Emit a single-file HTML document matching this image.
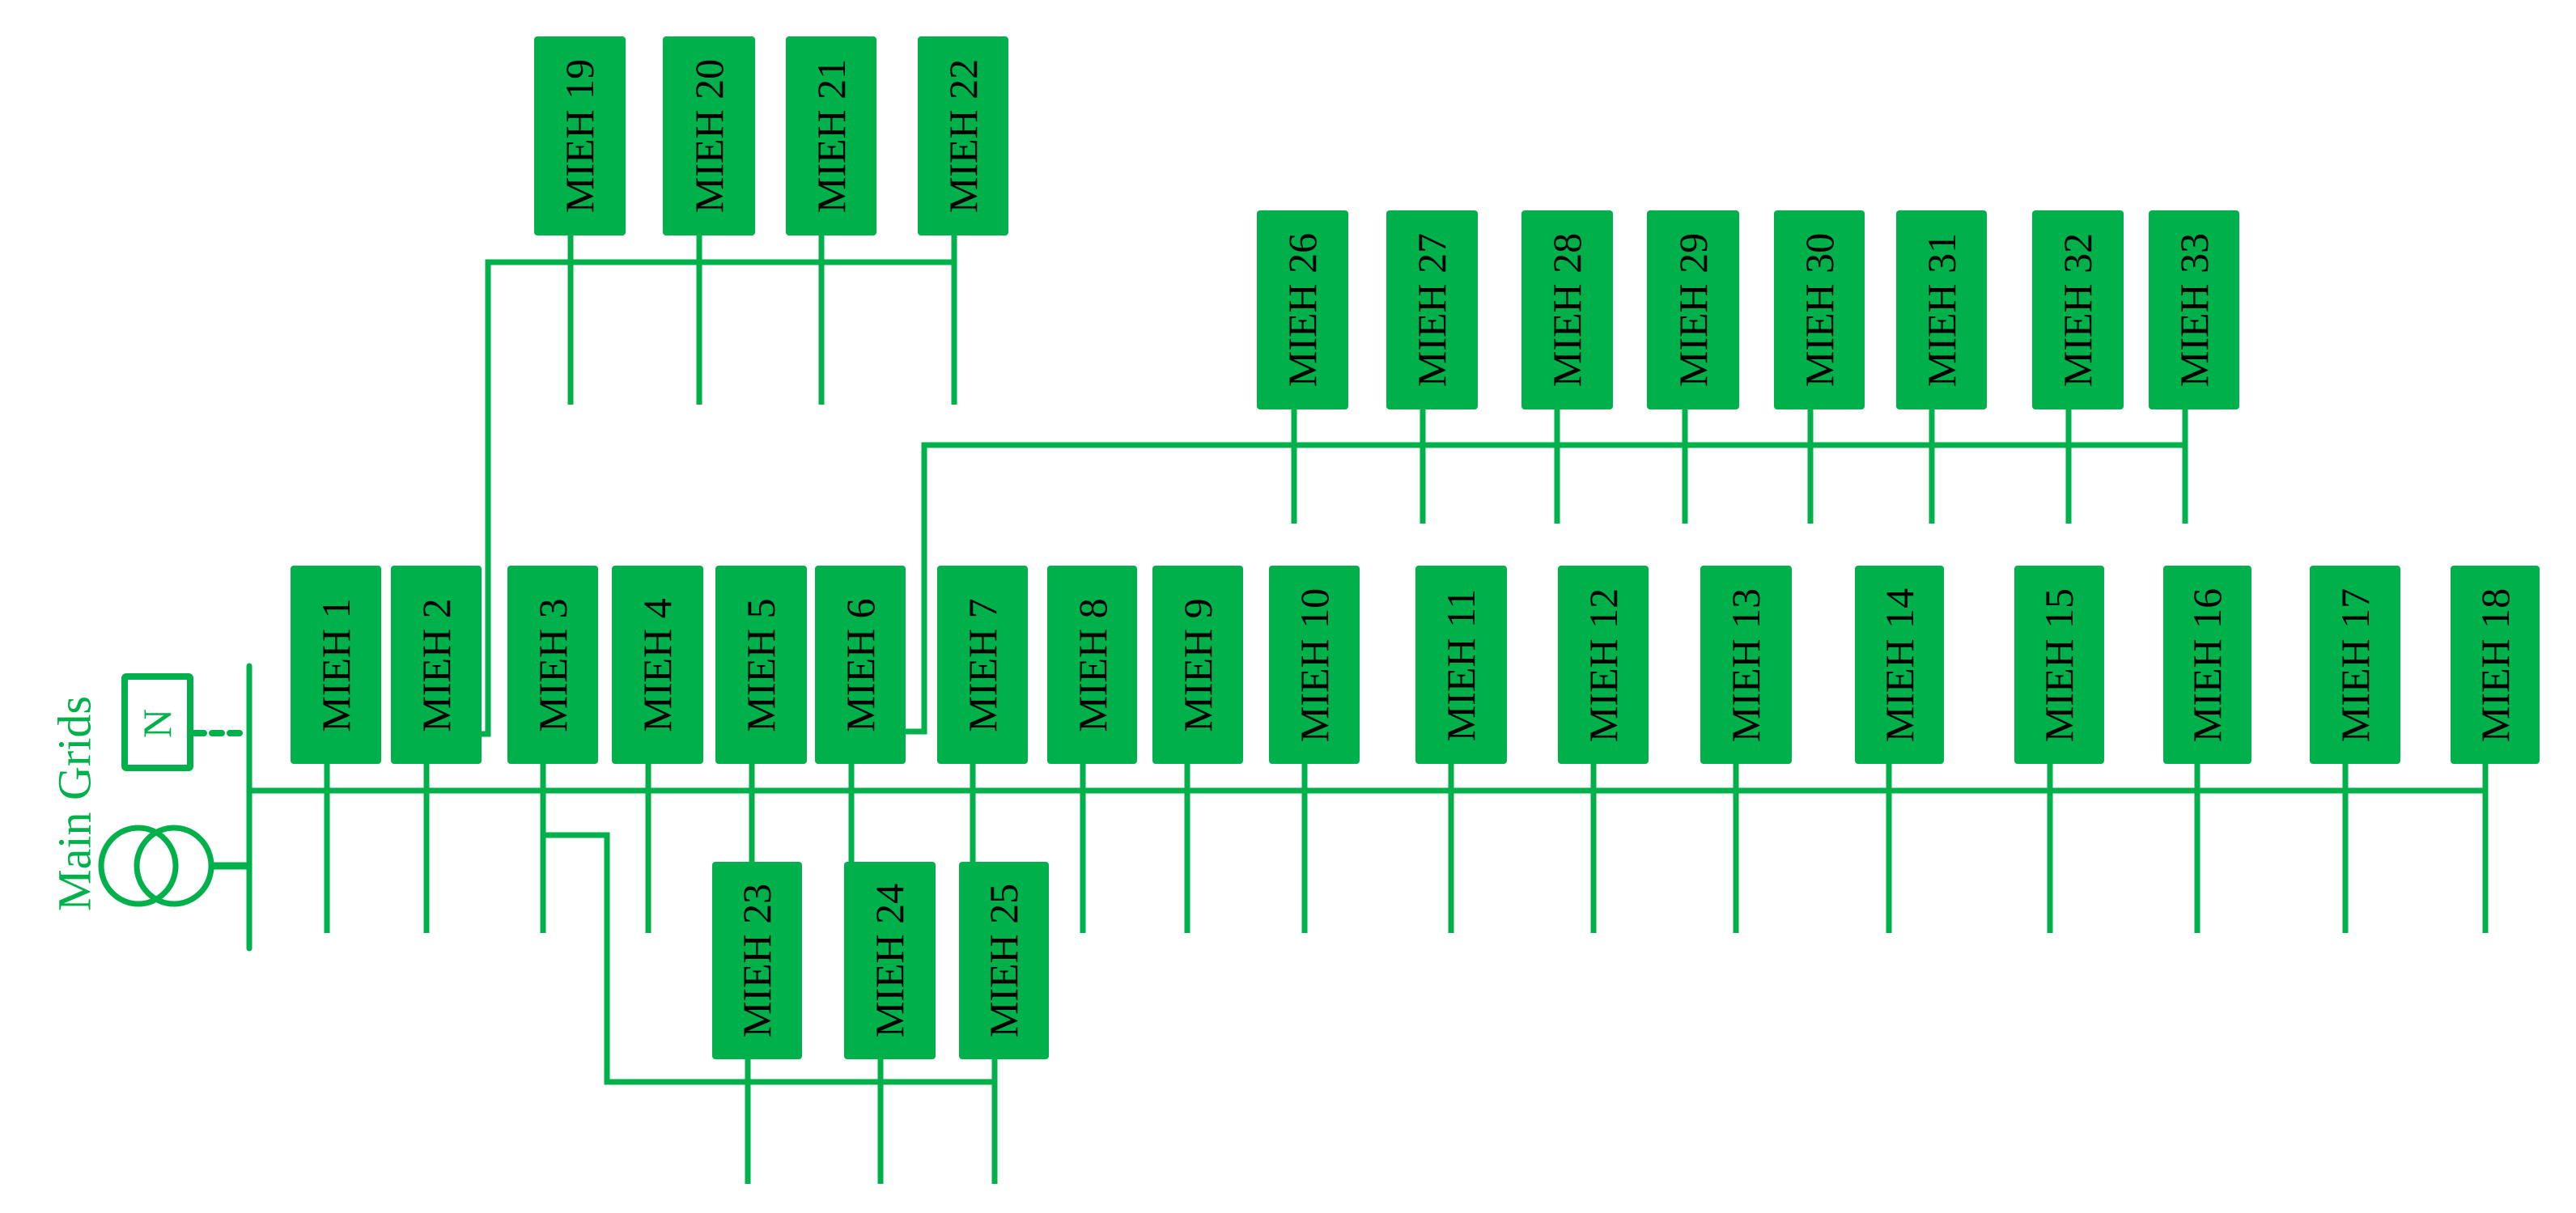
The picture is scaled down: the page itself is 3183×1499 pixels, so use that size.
<!DOCTYPE html>
<html><head><meta charset="utf-8"><style>
html,body{margin:0;padding:0;background:#fff;}
svg{display:block;}
text{font-family:"Liberation Serif",serif;}
</style></head><body>
<svg width="3183" height="1499" viewBox="0 0 3183 1499" xmlns="http://www.w3.org/2000/svg">
<g stroke="#00b04a" stroke-width="7" fill="none" stroke-linecap="butt">
<!-- main vertical bus -->
<line x1="308" y1="823" x2="308" y2="1172" stroke-linecap="round"/>
<!-- main horizontal bus -->
<line x1="308" y1="977" x2="3071" y2="977"/>
<!-- transformer link -->
<line x1="263" y1="1070" x2="308" y2="1070" stroke-width="9"/>
<ellipse cx="171" cy="1070" rx="46" ry="47" stroke-width="7"/>
<ellipse cx="215" cy="1070" rx="46" ry="47" stroke-width="7"/>
<!-- N box -->
<rect x="154" y="836" width="81" height="113" stroke-width="8" rx="2"/>
<line x1="240" y1="906" x2="305" y2="906" stroke-width="8" stroke-dasharray="12 10" stroke-linecap="round"/>
<!-- main row drops -->
<line x1="404" y1="944" x2="404" y2="1153"/>
<line x1="527" y1="944" x2="527" y2="1153"/>
<line x1="671" y1="944" x2="671" y2="1153"/>
<line x1="801" y1="944" x2="801" y2="1153"/>
<line x1="929" y1="944" x2="929" y2="1065"/>
<line x1="1052" y1="944" x2="1052" y2="1065"/>
<line x1="1202" y1="944" x2="1202" y2="1065"/>
<line x1="1338" y1="944" x2="1338" y2="1153"/>
<line x1="1467" y1="944" x2="1467" y2="1153"/>
<line x1="1612" y1="944" x2="1612" y2="1153"/>
<line x1="1793" y1="944" x2="1793" y2="1153"/>
<line x1="1969" y1="944" x2="1969" y2="1153"/>
<line x1="2145" y1="944" x2="2145" y2="1153"/>
<line x1="2334" y1="944" x2="2334" y2="1153"/>
<line x1="2533" y1="944" x2="2533" y2="1153"/>
<line x1="2715" y1="944" x2="2715" y2="1153"/>
<line x1="2898" y1="944" x2="2898" y2="1153"/>
<line x1="3071" y1="944" x2="3071" y2="1153"/>
<!-- branch from box 2 to top -->
<polyline points="595,907 603,907 603,324 1179,324"/>
<line x1="705" y1="291" x2="705" y2="500"/>
<line x1="864" y1="291" x2="864" y2="500"/>
<line x1="1015" y1="291" x2="1015" y2="500"/>
<line x1="1179" y1="291" x2="1179" y2="500"/>
<!-- branch from box 6 -->
<polyline points="1119,904 1142,904 1142,550 2700,550"/>
<line x1="1599" y1="506" x2="1599" y2="647"/>
<line x1="1758" y1="506" x2="1758" y2="647"/>
<line x1="1924" y1="506" x2="1924" y2="647"/>
<line x1="2082" y1="506" x2="2082" y2="647"/>
<line x1="2237" y1="506" x2="2237" y2="647"/>
<line x1="2387" y1="506" x2="2387" y2="647"/>
<line x1="2556" y1="506" x2="2556" y2="647"/>
<line x1="2700" y1="506" x2="2700" y2="647"/>
<!-- branch from box 3 -->
<polyline points="671,1032 750,1032 750,1337 1229,1337"/>
<line x1="924" y1="1309" x2="924" y2="1463"/>
<line x1="1088" y1="1309" x2="1088" y2="1463"/>
<line x1="1229" y1="1309" x2="1229" y2="1463"/>
</g>
<g fill="#00b04a">
<!-- main row -->
<rect x="359" y="699" width="112" height="245" rx="4"/>
<rect x="483" y="699" width="112" height="245" rx="4"/>
<rect x="627" y="699" width="112" height="245" rx="4"/>
<rect x="756" y="699" width="113" height="245" rx="4"/>
<rect x="884" y="699" width="113" height="245" rx="4"/>
<rect x="1007" y="699" width="112" height="245" rx="4"/>
<rect x="1158" y="699" width="112" height="245" rx="4"/>
<rect x="1294" y="699" width="111" height="245" rx="4"/>
<rect x="1424" y="699" width="112" height="245" rx="4"/>
<rect x="1568" y="699" width="112" height="245" rx="4"/>
<rect x="1749" y="699" width="113" height="245" rx="4"/>
<rect x="1925" y="699" width="112" height="245" rx="4"/>
<rect x="2101" y="699" width="113" height="245" rx="4"/>
<rect x="2292" y="699" width="110" height="245" rx="4"/>
<rect x="2489" y="699" width="111" height="245" rx="4"/>
<rect x="2673" y="699" width="109" height="245" rx="4"/>
<rect x="2854" y="699" width="112" height="245" rx="4"/>
<rect x="3028" y="699" width="110" height="245" rx="4"/>
<!-- top row 19-22 -->
<rect x="660" y="45" width="113" height="246" rx="4"/>
<rect x="819" y="45" width="114" height="246" rx="4"/>
<rect x="971" y="45" width="112" height="246" rx="4"/>
<rect x="1134" y="45" width="112" height="246" rx="4"/>
<!-- row 26-33 -->
<rect x="1553" y="260" width="113" height="246" rx="4"/>
<rect x="1713" y="260" width="113" height="246" rx="4"/>
<rect x="1880" y="260" width="113" height="246" rx="4"/>
<rect x="2035" y="260" width="114" height="246" rx="4"/>
<rect x="2192" y="260" width="112" height="246" rx="4"/>
<rect x="2343" y="260" width="112" height="246" rx="4"/>
<rect x="2511" y="260" width="113" height="246" rx="4"/>
<rect x="2655" y="260" width="112" height="246" rx="4"/>
<!-- lower 23-25 -->
<rect x="880" y="1065" width="111" height="244" rx="4"/>
<rect x="1043" y="1065" width="113" height="244" rx="4"/>
<rect x="1185" y="1065" width="111" height="244" rx="4"/>
</g>
<g font-size="50" fill="#000" text-anchor="middle" dominant-baseline="central">
<text transform="translate(415,822) rotate(-90)">MIEH 1</text>
<text transform="translate(539,822) rotate(-90)">MIEH 2</text>
<text transform="translate(683,822) rotate(-90)">MIEH 3</text>
<text transform="translate(812,822) rotate(-90)">MIEH 4</text>
<text transform="translate(940,822) rotate(-90)">MIEH 5</text>
<text transform="translate(1063,822) rotate(-90)">MIEH 6</text>
<text transform="translate(1214,822) rotate(-90)">MIEH 7</text>
<text transform="translate(1350,822) rotate(-90)">MIEH 8</text>
<text transform="translate(1480,822) rotate(-90)">MIEH 9</text>
<text transform="translate(1624,822) rotate(-90)">MIEH 10</text>
<text transform="translate(1805,822) rotate(-90)">MIEH 11</text>
<text transform="translate(1981,822) rotate(-90)">MIEH 12</text>
<text transform="translate(2157,822) rotate(-90)">MIEH 13</text>
<text transform="translate(2347,822) rotate(-90)">MIEH 14</text>
<text transform="translate(2544,822) rotate(-90)">MIEH 15</text>
<text transform="translate(2727,822) rotate(-90)">MIEH 16</text>
<text transform="translate(2910,822) rotate(-90)">MIEH 17</text>
<text transform="translate(3083,822) rotate(-90)">MIEH 18</text>
<text transform="translate(716,168) rotate(-90)">MIEH 19</text>
<text transform="translate(876,168) rotate(-90)">MIEH 20</text>
<text transform="translate(1027,168) rotate(-90)">MIEH 21</text>
<text transform="translate(1190,168) rotate(-90)">MIEH 22</text>
<text transform="translate(935,1187) rotate(-90)">MIEH 23</text>
<text transform="translate(1099,1187) rotate(-90)">MIEH 24</text>
<text transform="translate(1240,1187) rotate(-90)">MIEH 25</text>
<text transform="translate(1609,383) rotate(-90)">MIEH 26</text>
<text transform="translate(1769,383) rotate(-90)">MIEH 27</text>
<text transform="translate(1936,383) rotate(-90)">MIEH 28</text>
<text transform="translate(2092,383) rotate(-90)">MIEH 29</text>
<text transform="translate(2248,383) rotate(-90)">MIEH 30</text>
<text transform="translate(2399,383) rotate(-90)">MIEH 31</text>
<text transform="translate(2567,383) rotate(-90)">MIEH 32</text>
<text transform="translate(2711,383) rotate(-90)">MIEH 33</text>
</g>
<g fill="#00b04a" text-anchor="middle" dominant-baseline="central">
<text font-size="50" transform="translate(194,894) rotate(-90)">N</text>
<text font-size="58" transform="translate(92,993) rotate(-90)">Main Grids</text>
</g>
</svg>
</body></html>
